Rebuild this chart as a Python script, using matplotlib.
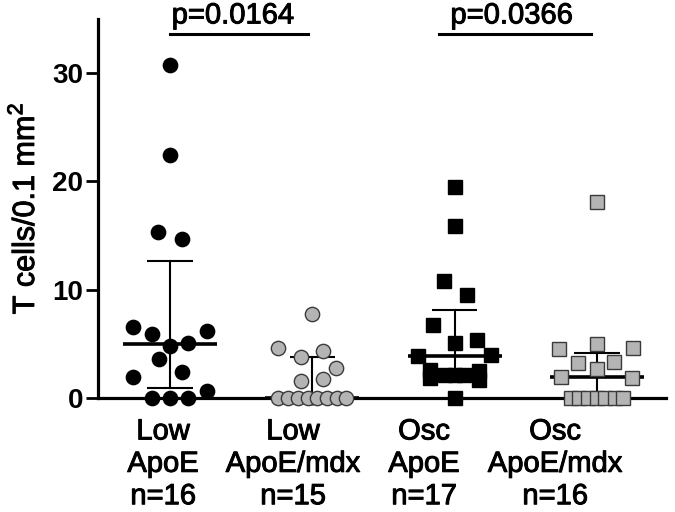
import numpy as np
import matplotlib
matplotlib.use("Agg")
import matplotlib.pyplot as plt
import matplotlib.patheffects as pe

plt.rcParams['font.family'] = ['Liberation Sans', 'DejaVu Sans']

# values (T cells / 0.1 mm^2)
low_apoe = [30.8, 22.4, 15.3, 14.7, 6.55, 5.9, 4.8, 5.1, 6.2, 3.6, 1.9, 2.4, 0.6, 0, 0, 0]
low_mdx = [7.75, 4.6, 4.3, 3.8, 2.8, 1.75, 1.55, 0, 0, 0, 0, 0, 0, 0, 0]
osc_apoe = [19.5, 15.9, 10.8, 9.5, 6.7, 5.35, 5.1, 3.9, 3.95, 2.6, 1.85, 2.1, 2.1, 2.1, 2.5, 1.65, 0]
osc_mdx = [18.1, 5.0, 4.5, 4.6, 3.2, 3.3, 2.7, 1.95, 1.85, 0, 0, 0, 0, 0, 0, 0]

# horizontal scatter of the points inside each column
low_apoe_dx = [0, 0, -0.085, 0.085, -0.26, -0.127, 0, 0.127, 0.26, -0.077, -0.26, 0.085, 0.26, -0.127, 0, 0.127]
low_mdx_dx = [0, -0.24, 0.077, -0.077, 0.17, 0.077, -0.077, -0.24, -0.17, -0.1, -0.03, 0.035, 0.105, 0.175, 0.24]
osc_apoe_dx = [0, 0, -0.077, 0.085, -0.155, 0.16, 0, -0.255, 0.255, -0.17, -0.17, -0.07, 0, 0.065, 0.17, 0.17, 0]
osc_mdx_dx = [0, 0, -0.265, 0.255, -0.135, 0.12, 0, -0.255, 0.245, -0.185, -0.125, -0.06, 0, 0.06, 0.125, 0.185]

groups = ["Low\nApoE", "Low\nApoE/mdx", "Osc\nApoE", "Osc\nApoE/mdx"]
pvalues = ["p=0.0164", "p=0.0366"]

data = [low_apoe, low_mdx, osc_apoe, osc_mdx]
jitter = [low_apoe_dx, low_mdx_dx, osc_apoe_dx, osc_mdx_dx]
markers = ["o", "o", "s", "s"]
faces = ["black", "#b4b4b4", "black", "#b4b4b4"]
edges = ["black", "#3a3a3a", "black", "#3a3a3a"]

# slightly heavier strokes for the regular-weight text
heavy = [pe.withStroke(linewidth=0.7, foreground="black")]

fig = plt.figure(figsize=(6.75, 5.12), dpi=100)
ax = fig.add_axes([0.1452, 0.2227, 0.8415, 0.740])

for i, vals in enumerate(data):
    vals = np.array(vals)
    q1, med, q3 = np.percentile(vals, [25, 50, 75], method="weibull")
    # median with interquartile range
    ax.plot([i - 0.33, i + 0.33], [med, med], color="black", lw=2.6, zorder=2, solid_capstyle="butt")
    ax.plot([i, i], [q1, q3], color="black", lw=1.5, zorder=2)
    for q in (q1, q3):
        ax.plot([i - 0.16, i + 0.16], [q, q], color="black", lw=1.5, zorder=2, solid_capstyle="butt")
    ax.plot(i + np.array(jitter[i]), vals, linestyle="none", marker=markers[i],
            markersize=10.3, markerfacecolor=faces[i], markeredgecolor=edges[i],
            markeredgewidth=1.0, zorder=3, clip_on=False)

# significance bars
ax.plot([0.0, 0.97], [33.6, 33.6], color="black", lw=2.2, clip_on=False)
ax.plot([1.89, 2.96], [33.6, 33.6], color="black", lw=2.2, clip_on=False)
ax.text(0.44, 34.6, pvalues[0], ha="center", va="baseline", fontsize=21, path_effects=heavy)
ax.text(2.40, 34.6, pvalues[1], ha="center", va="baseline", fontsize=21, path_effects=heavy)

ax.set_xlim(-0.506, 3.486)
ax.set_ylim(0, 35)
ax.set_yticks([0, 10, 20, 30])
ax.set_xticks(range(4))
ax.set_xticklabels([""] * 4)
for lab in ax.get_yticklabels():
    lab.set_fontweight("bold")
ax.tick_params(axis="y", length=8.5, width=2.0, labelsize=20, pad=2)
ax.tick_params(axis="x", length=5, width=2.0)

# group labels under the axis
label_x = [-0.049, 0.864, 1.785, 2.706]
for i, name in enumerate(groups):
    ax.annotate(name + "\nn={}".format(len(data[i])), xy=(label_x[i], 0),
                xycoords=("data", "axes fraction"), xytext=(0, -14),
                textcoords="offset points", ha="center", va="top",
                fontsize=21, linespacing=1.2, path_effects=heavy)

ylab = ax.set_ylabel("T cells/0.1 mm$^\\mathregular{2}$", fontsize=22)
ylab.set_path_effects(heavy)
ax.yaxis.set_label_coords(-0.100, 0.5)

for side in ("top", "right"):
    ax.spines[side].set_visible(False)
for side in ("left", "bottom"):
    ax.spines[side].set_linewidth(2.3)

fig.savefig("out.png", dpi=100)
